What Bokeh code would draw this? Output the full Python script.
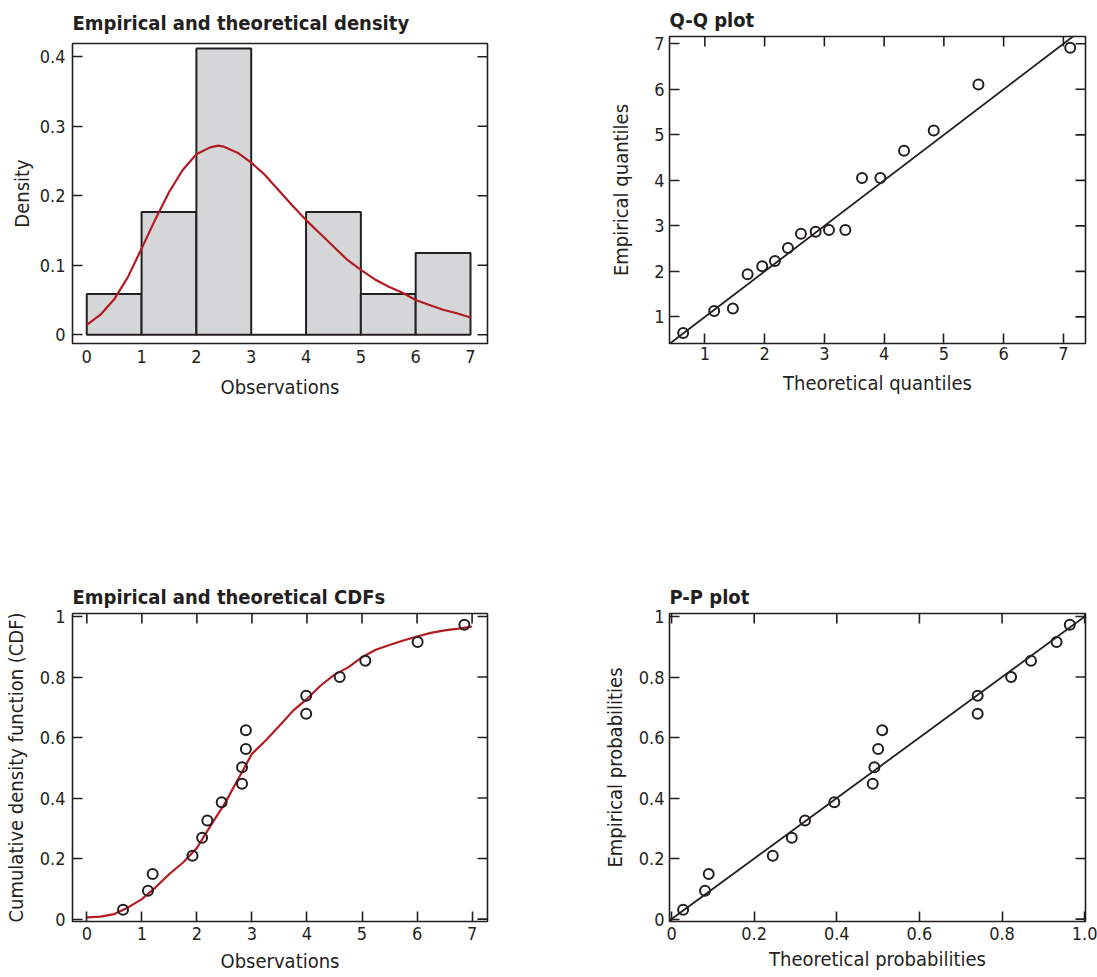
import math
from bokeh.plotting import figure
from bokeh.layouts import column, row
from bokeh.models import Range1d, LinearAxis, FixedTicker, Slope
from bokeh.embed import file_html
from bokeh.resources import INLINE

# ---------------- data ----------------
# Histogram (density) of 17 observations
bin_left = [0, 1, 2, 3, 4, 5, 6]
bin_right = [1, 2, 3, 4, 5, 6, 7]
bin_density = [0.0588, 0.1765, 0.4118, 0.0, 0.1765, 0.0588, 0.1176]

# Theoretical density curve
dens_x = [0, 0.25, 0.5, 0.75, 1.0, 1.25, 1.5, 1.75, 2.0, 2.25, 2.4, 2.5, 2.75, 3.0,
          3.25, 3.5, 3.75, 4.0, 4.25, 4.5, 4.75, 5.0, 5.25, 5.5, 5.75, 6.0, 6.25,
          6.5, 6.75, 7.0]
dens_y = [0.0144, 0.029, 0.051, 0.083, 0.124, 0.166, 0.205, 0.237, 0.2596, 0.2696,
          0.272, 0.2706, 0.262, 0.2476, 0.230, 0.208, 0.186, 0.165, 0.146, 0.127,
          0.108, 0.0934, 0.080, 0.0694, 0.0608, 0.050, 0.043, 0.036, 0.031, 0.025]

# Q-Q plot
qq_theo = [0.637, 1.156, 1.469, 1.715, 1.960, 2.173, 2.39, 2.608, 2.854, 3.077,
           3.351, 3.63, 3.937, 4.333, 4.83, 5.578, 7.114]
qq_emp = [0.649, 1.132, 1.183, 1.936, 2.112, 2.229, 2.514, 2.829, 2.873, 2.909,
          2.909, 4.05, 4.05, 4.65, 5.097, 6.106, 6.911]

# Empirical CDF points
cdf_obs = [0.658, 1.111, 1.196, 1.92, 2.095, 2.19, 2.45, 2.82, 2.82, 2.89, 2.89,
           3.986, 3.986, 4.595, 5.06, 6.01, 6.86]
cdf_emp = [0.031, 0.094, 0.149, 0.209, 0.269, 0.326, 0.386, 0.447, 0.502, 0.562,
           0.624, 0.679, 0.738, 0.800, 0.854, 0.916, 0.973]

# Theoretical CDF curve
cdf_curve_x = [0, 0.25, 0.5, 0.75, 1.0, 1.25, 1.5, 1.75, 2.0, 2.25, 2.5, 2.75, 3.0,
               3.25, 3.5, 3.75, 4.0, 4.25, 4.5, 4.75, 5.0, 5.25, 5.5, 5.75, 6.0,
               6.25, 6.5, 6.75, 7.0]
cdf_curve_y = [0.0055, 0.008, 0.0165, 0.0386, 0.066, 0.105, 0.149, 0.187, 0.235,
               0.309, 0.380, 0.463, 0.546, 0.590, 0.639, 0.689, 0.728, 0.772, 0.808,
               0.832, 0.8655, 0.890, 0.906, 0.9206, 0.934, 0.946, 0.954, 0.960, 0.967]

# P-P plot
pp_theo = [0.028, 0.081, 0.090, 0.245, 0.291, 0.323, 0.394, 0.487, 0.491, 0.500,
           0.510, 0.741, 0.741, 0.822, 0.870, 0.932, 0.964]
pp_emp = [0.031, 0.094, 0.149, 0.209, 0.269, 0.326, 0.386, 0.447, 0.502, 0.562,
          0.624, 0.679, 0.738, 0.800, 0.854, 0.916, 0.973]

# ticks
hist_xticks = [0, 1, 2, 3, 4, 5, 6, 7]
hist_yticks = [0, 0.1, 0.2, 0.3, 0.4]
qq_ticks = [1, 2, 3, 4, 5, 6, 7]
cdf_xticks = [0, 1, 2, 3, 4, 5, 6, 7]
prob_ticks = [0, 0.2, 0.4, 0.6, 0.8, 1.0]

# ---------------- style ----------------
FONT = "DejaVu Sans Condensed"
INK = "#231f20"
RED = "#b31b22"
TICK_SIZE = "18px"
LABEL_SIZE = "20px"
TITLE_SIZE = "20px"
TICK_LEN = 10


def make_fig(width, height, xr, yr, bl, br, bt, bb, title, title_standoff):
    p = figure(width=width, height=height, x_range=Range1d(*xr), y_range=Range1d(*yr),
               x_axis_type=None, y_axis_type=None, output_backend="svg",
               toolbar_location=None, min_border_left=bl, min_border_right=br,
               min_border_top=bt, min_border_bottom=bb)
    p.outline_line_color = INK
    p.outline_line_width = 1.6
    p.background_fill_color = "white"
    p.border_fill_color = "white"
    p.title.text = title
    p.title.text_font = FONT
    p.title.text_font_style = "bold"
    p.title.text_font_size = TITLE_SIZE
    p.title.text_color = INK
    p.title.align = "left"
    p.title.offset = 0
    p.title.standoff = title_standoff
    return p


def add_axis(p, side, ticks, overrides=None, label=None, standoff=5,
             label_standoff=8, tick_in=TICK_LEN):
    ax = LinearAxis(ticker=FixedTicker(ticks=ticks))
    ax.axis_line_color = None
    ax.major_tick_in = tick_in
    ax.major_tick_out = 0
    ax.minor_tick_in = 0
    ax.minor_tick_out = 0
    ax.major_tick_line_color = INK if tick_in > 0 else None
    ax.major_tick_line_width = 1.6
    ax.major_label_text_font = FONT
    ax.major_label_text_color = INK
    ax.major_label_standoff = standoff
    ax.major_label_text_font_size = TICK_SIZE
    if overrides:
        ax.major_label_overrides = overrides
    if label:
        ax.axis_label = label
        ax.axis_label_text_font = FONT
        ax.axis_label_text_font_size = LABEL_SIZE
        ax.axis_label_text_font_style = "normal"
        ax.axis_label_text_color = INK
        ax.axis_label_standoff = label_standoff
    p.add_layout(ax, side)
    return ax


def top_ticks(p, ticks):
    p.ray(x=ticks, y=p.y_range.end, length=TICK_LEN, length_units="screen",
          angle=-math.pi / 2, line_color=INK, line_width=1.6)


def right_ticks(p, ticks):
    p.ray(x=p.x_range.end, y=ticks, length=TICK_LEN, length_units="screen",
          angle=math.pi, line_color=INK, line_width=1.6)


prob_labels = {0: "0", 0.2: "0.2", 0.4: "0.4", 0.6: "0.6", 0.8: "0.8", 1.0: "1"}

# ---------------- panel 1: density histogram ----------------
p1 = make_fig(548, 410, (-0.26, 7.31), (-0.0125, 0.419), 70, 60, 43, 67,
              "Empirical and theoretical density", 17)
p1.quad(left=bin_left, right=bin_right, bottom=0, top=bin_density,
        fill_color="#d5d6d8", line_color=INK, line_width=2)
p1.line(dens_x, dens_y, line_color=RED, line_width=2.2)
add_axis(p1, "below", hist_xticks, label="Observations", standoff=6,
         label_standoff=9, tick_in=0)
add_axis(p1, "left", hist_yticks, overrides={0: "0"}, label="Density",
         standoff=7, label_standoff=3)
right_ticks(p1, hist_yticks)

# ---------------- panel 2: Q-Q plot ----------------
p2 = make_fig(549, 410, (0.408, 7.37), (0.416, 7.16), 121, 12, 36, 67,
              "Q-Q plot", 10)
p2.add_layout(Slope(gradient=1, y_intercept=0, line_color=INK, line_width=1.8))
p2.scatter(qq_theo, qq_emp, marker="circle", size=10, fill_color=None,
           line_color=INK, line_width=2)
add_axis(p2, "below", qq_ticks, label="Theoretical quantiles", standoff=3,
         label_standoff=8)
add_axis(p2, "left", qq_ticks, label="Empirical quantiles", standoff=5,
         label_standoff=18)
top_ticks(p2, qq_ticks)
right_ticks(p2, qq_ticks)

# ---------------- panel 3: CDFs ----------------
p3 = make_fig(548, 567, (-0.26, 7.28), (-0.008, 1.01), 70, 61, 203, 56,
              "Empirical and theoretical CDFs", 9)
p3.line(cdf_curve_x, cdf_curve_y, line_color=RED, line_width=2.2)
p3.scatter(cdf_obs, cdf_emp, marker="circle", size=10, fill_color=None,
           line_color=INK, line_width=2)
add_axis(p3, "below", cdf_xticks, label="Observations", standoff=5,
         label_standoff=6)
add_axis(p3, "left", prob_ticks, overrides=prob_labels,
         label="Cumulative density function (CDF)", standoff=7, label_standoff=9)
top_ticks(p3, cdf_xticks)
right_ticks(p3, prob_ticks)

# ---------------- panel 4: P-P plot ----------------
p4 = make_fig(549, 567, (-0.005, 1.002), (-0.008, 1.01), 121, 12, 203, 56,
              "P-P plot", 9)
p4.add_layout(Slope(gradient=1, y_intercept=0, line_color=INK, line_width=1.8))
p4.scatter(pp_theo, pp_emp, marker="circle", size=10, fill_color=None,
           line_color=INK, line_width=2)
add_axis(p4, "below", prob_ticks,
         overrides={0: "0", 0.2: "0.2", 0.4: "0.4", 0.6: "0.6", 0.8: "0.8", 1.0: "1.0"},
         label="Theoretical probabilities", standoff=5, label_standoff=4)
add_axis(p4, "left", prob_ticks, overrides=prob_labels,
         label="Empirical probabilities", standoff=5, label_standoff=9)
top_ticks(p4, prob_ticks)
right_ticks(p4, prob_ticks)

layout = row(column(p1, p3), column(p2, p4))
open("out.html", "w").write(file_html(layout, INLINE))
